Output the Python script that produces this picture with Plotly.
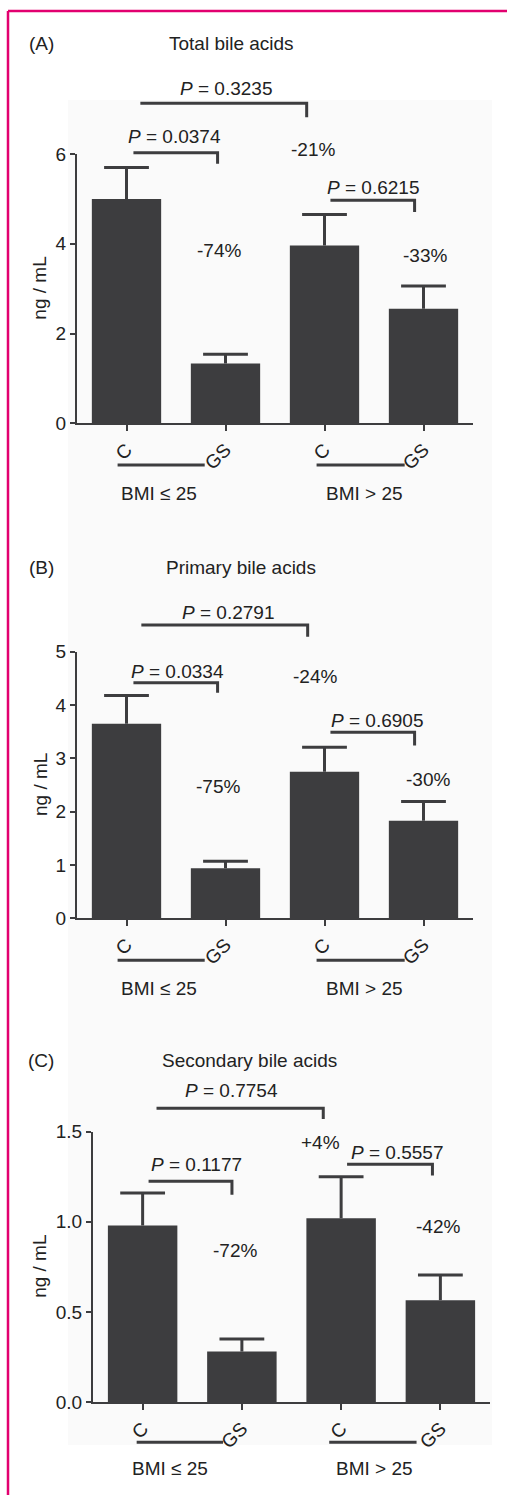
import plotly.graph_objects as go

# ---------------- data ----------------
categories = ["C", "GS", "C", "GS"]
groups = ["BMI ≤ 25", "BMI > 25"]

total_mean = [5.00, 1.33, 3.96, 2.55]
total_err = [0.70, 0.21, 0.69, 0.51]
primary_mean = [3.65, 0.94, 2.75, 1.83]
primary_err = [0.53, 0.13, 0.46, 0.36]
secondary_mean = [0.98, 0.28, 1.02, 0.565]
secondary_err = [0.18, 0.07, 0.23, 0.14]

panel_letters = ["(A)", "(B)", "(C)"]
panel_titles = ["Total bile acids", "Primary bile acids", "Secondary bile acids"]
p_between = ["0.3235", "0.2791", "0.7754"]     # C(BMI<=25) vs C(BMI>25)
p_low = ["0.0374", "0.0334", "0.1177"]         # C vs GS, BMI<=25
p_high = ["0.6215", "0.6905", "0.5557"]        # C vs GS, BMI>25
pct_low = ["-74%", "-75%", "-72%"]
pct_between = ["-21%", "-24%", "+4%"]
pct_high = ["-33%", "-30%", "-42%"]

y_max = [6, 5, 1.5]
y_tickvals = [[0, 2, 4, 6], [0, 1, 2, 3, 4, 5], [0, 0.5, 1.0, 1.5]]
y_ticktext = [["0", "2", "4", "6"], ["0", "1", "2", "3", "4", "5"], ["0.0", "0.5", "1.0", "1.5"]]

means = [total_mean, primary_mean, secondary_mean]
errs = [total_err, primary_err, secondary_err]

# ---------------- layout constants (pixels) ----------------
W, H = 507, 1495
FONT = "Liberation Sans, Arial, sans-serif"
BAR = "#3d3d3f"
INK = "#3d3d3f"
TXT = "#222222"
FS = 19

# plot area in pixels: (left, right, top(ymax), bottom(0))
areas = [(77, 473, 154, 423.3), (77, 473, 651.7, 918.3), (93, 490, 1131.7, 1402)]
title_pos = [(167, 43), (164, 568), (160, 1060)]

# annotation placement in data units per panel
# brackets: (x0, x1, y_level, y_drop)
br_between = [(0.14, 1.82, 7.13, 6.82), (0.15, 1.83, 5.50, 5.28), (0.14, 1.82, 1.63, 1.57)]
br_low = [(0.07, 0.92, 6.03, 5.78), (0.07, 0.92, 4.42, 4.23), (0.06, 0.90, 1.225, 1.15)]
br_high = [(2.06, 2.91, 4.97, 4.71), (2.06, 2.91, 3.49, 3.24), (2.06, 2.92, 1.32, 1.257)]
txt_between = [(1.00, 7.45), (1.03, 5.73), (0.90, 1.73)]
txt_low = [(0.48, 6.38), (0.52, 4.63), (0.54, 1.32)]
txt_high = [(2.49, 5.25), (2.53, 3.71), (2.56, 1.386)]
pos_pct_low = [(0.93, 3.84), (0.92, 2.47), (0.93, 0.84)]
pos_pct_between = [(1.88, 6.09), (1.90, 4.53), (1.79, 1.44)]
pos_pct_high = [(3.02, 3.73), (3.05, 2.61), (2.98, 0.976)]
under_lines = [[(-0.09, 0.79), (1.92, 2.81)], [(-0.09, 0.79), (1.92, 2.81)], [(-0.06, 0.81), (1.88, 2.76)]]
under_px = [41.7, 42, 40.3]     # below zero line
group_lbl_x = [(0.33, 2.40), (0.33, 2.40), (0.28, 2.34)]
group_lbl_px = [69.7, 70, 66]

fig = go.Figure()
shapes = []
annotations = []

# faint scanned background
shapes.append(dict(type="rect", xref="paper", yref="paper",
                   x0=68 / W, x1=492 / W, y0=1 - 1445 / H, y1=1 - 100 / H,
                   fillcolor="#fafafa", line=dict(width=0), layer="below"))

for i in range(3):
    l, r, t, b = areas[i]
    xa = "x" if i == 0 else f"x{i+1}"
    ya = "y" if i == 0 else f"y{i+1}"
    xkey = "xaxis" if i == 0 else f"xaxis{i+1}"
    ykey = "yaxis" if i == 0 else f"yaxis{i+1}"
    xs = list(range(len(categories)))
    fig.add_trace(go.Bar(
        x=xs, y=means[i], xaxis=xa, yaxis=ya,
        width=0.7, marker=dict(color=BAR, line=dict(width=0)),
        error_y=dict(type="data", array=errs[i], arrayminus=[0] * 4, symmetric=False,
                     color=BAR, thickness=3, width=0),
        showlegend=False, hoverinfo="skip"))
    # error-bar caps
    fig.add_trace(go.Scatter(
        x=xs, y=[m + e for m, e in zip(means[i], errs[i])], xaxis=xa, yaxis=ya,
        mode="markers", marker=dict(symbol="line-ew-open", size=32, color=BAR,
                                    line=dict(color=BAR, width=3)),
        showlegend=False, hoverinfo="skip", cliponaxis=False))
    fig.update_layout(**{
        xkey: dict(domain=[l / W, r / W], range=[-0.5, 3.5], anchor=ya, automargin=False,
                   tickmode="array", tickvals=xs, ticktext=categories,
                   tickangle=-45, ticks="outside", ticklen=6, tickwidth=2, tickcolor=INK,
                   showline=True, linecolor=INK, linewidth=2, showgrid=False, zeroline=False,
                   tickfont=dict(family=FONT, size=FS, color=TXT), fixedrange=True),
        ykey: dict(domain=[1 - b / H, 1 - t / H], range=[0, y_max[i]], anchor=xa, automargin=False,
                   tickmode="array", tickvals=y_tickvals[i], ticktext=y_ticktext[i],
                   ticks="outside", ticklen=5, tickwidth=2, tickcolor=INK,
                   showline=True, linecolor=INK, linewidth=2, showgrid=False, zeroline=False,
                   tickfont=dict(family=FONT, size=FS, color=TXT), fixedrange=True),
    })
    ym = y_max[i]
    ydom = f"{ya} domain"
    plot_h = b - t

    def bracket(br):
        x0, x1, yl, yd = br
        shapes.append(dict(type="path", xref=xa, yref=ydom,
                           path=f"M {x0} {yl/ym} L {x1} {yl/ym} L {x1} {yd/ym}",
                           line=dict(color=INK, width=3)))

    bracket(br_between[i])
    bracket(br_low[i])
    bracket(br_high[i])

    def txt(pos, s):
        annotations.append(dict(x=pos[0], y=pos[1] / ym, xref=xa, yref=ydom, text=s,
                                showarrow=False, xanchor="center", yanchor="middle",
                                font=dict(family=FONT, size=FS, color=TXT)))

    txt(txt_between[i], f"<i>P</i> = {p_between[i]}")
    txt(txt_low[i], f"<i>P</i> = {p_low[i]}")
    txt(txt_high[i], f"<i>P</i> = {p_high[i]}")
    txt(pos_pct_low[i], pct_low[i])
    txt(pos_pct_between[i], pct_between[i])
    txt(pos_pct_high[i], pct_high[i])

    # group underlines + labels
    yu = -under_px[i] / plot_h
    for (u0, u1) in under_lines[i]:
        shapes.append(dict(type="line", xref=xa, yref=ydom, x0=u0, x1=u1, y0=yu, y1=yu,
                           line=dict(color=INK, width=3)))
    yg = -group_lbl_px[i] / plot_h
    for gx, g in zip(group_lbl_x[i], groups):
        annotations.append(dict(x=gx, y=yg, xref=xa, yref=ydom, text=g, showarrow=False,
                                xanchor="center", yanchor="middle",
                                font=dict(family=FONT, size=FS, color=TXT)))

    # y-axis title
    annotations.append(dict(x=40 / W, y=1 - (t + b) / 2 / H, xref="paper", yref="paper",
                            text="ng / mL", textangle=-90, showarrow=False,
                            xanchor="center", yanchor="middle",
                            font=dict(family=FONT, size=FS, color=TXT)))
    # panel letter and title
    annotations.append(dict(x=41 / W, y=1 - title_pos[i][1] / H, xref="paper", yref="paper",
                            text=panel_letters[i], showarrow=False, xanchor="center",
                            yanchor="middle", font=dict(family=FONT, size=FS, color=TXT)))
    annotations.append(dict(x=title_pos[i][0] / W, y=1 - title_pos[i][1] / H, xref="paper",
                            yref="paper", text=panel_titles[i], showarrow=False,
                            xanchor="left", yanchor="middle",
                            font=dict(family=FONT, size=FS, color=TXT)))

# magenta frame
PINK = "#e2006f"
shapes.append(dict(type="line", xref="paper", yref="paper", x0=8 / W, x1=1, y0=1 - 11 / H, y1=1 - 11 / H,
                   line=dict(color=PINK, width=2.5)))
shapes.append(dict(type="line", xref="paper", yref="paper", x0=8 / W, x1=8 / W, y0=0, y1=1 - 11 / H,
                   line=dict(color=PINK, width=2.5)))

fig.update_layout(width=W, height=H, margin=dict(l=0, r=0, t=0, b=0, autoexpand=False),
                  paper_bgcolor="white", plot_bgcolor="rgba(0,0,0,0)",
                  shapes=shapes, annotations=annotations, bargap=0.3,
                  font=dict(family=FONT, size=FS, color=TXT))

fig.write_html("out.html", config={"displayModeBar": False},
               post_script="document.body.style.margin='0';document.body.style.padding='0';"
                           "document.body.style.overflow='hidden';"
                           "document.documentElement.style.overflow='hidden';"
                           "var gd=document.getElementById('{plot_id}');"
                           "gd.style.position='absolute';gd.style.top='0px';gd.style.left='0px';")
